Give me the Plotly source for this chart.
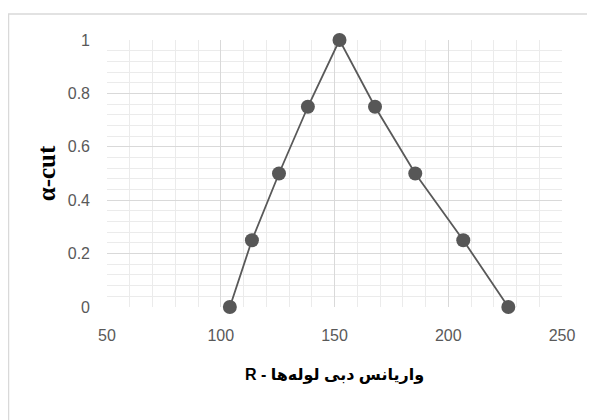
import plotly.graph_objects as go

x_vals = [104.0, 113.7, 125.6, 138.3, 152.2, 167.8, 185.5, 206.6, 226.4]
alpha_vals = [0, 0.25, 0.5, 0.75, 1.0, 0.75, 0.5, 0.25, 0]
x_ticks = [50, 100, 150, 200, 250]
y_ticks = [0, 0.2, 0.4, 0.6, 0.8, 1]
y_tick_text = ["0", "0.2", "0.4", "0.6", "0.8", "1"]
x_title = "R - واریانس دبی لوله‌ها"
y_title = "α-cut"

# page body has an 8px margin, so the figure starts at (8, 8)
W, H = 587, 412
L, T = 99, 32
pw, ph = 455, 267
R, B = W - L - pw, H - T - ph

fig = go.Figure()
fig.add_trace(go.Scatter(
    x=x_vals, y=alpha_vals, mode="lines+markers",
    line=dict(color="#595959", width=1.8),
    marker=dict(size=14, color="#575757", line=dict(width=0)),
    cliponaxis=False,
    showlegend=False, hoverinfo="skip",
))

tick_font = dict(family="Liberation Sans, Arial, sans-serif", size=16, color="#595959")
fig.update_layout(
    width=W, height=H,
    margin=dict(l=L, r=R, t=T, b=B, pad=0),
    paper_bgcolor="white", plot_bgcolor="white",
    xaxis=dict(
        range=[50, 250], tickvals=x_ticks, showgrid=True, gridcolor="#d9d9d9", gridwidth=1,
        minor=dict(dtick=10, showgrid=True, gridcolor="#ebebeb", gridwidth=1),
        zeroline=False, showline=False, ticks="", tickfont=tick_font,
        ticklabelstandoff=17,
        title=dict(text="<b>" + x_title + "</b>", standoff=25,
                   font=dict(family="Liberation Sans, DejaVu Sans, sans-serif", size=16, color="black")),
    ),
    yaxis=dict(
        range=[0, 1], tickvals=y_ticks, ticktext=y_tick_text, showgrid=True, gridcolor="#d9d9d9", gridwidth=1,
        minor=dict(dtick=0.04, showgrid=True, gridcolor="#ebebeb", gridwidth=1),
        zeroline=False, showline=False, ticks="", tickfont=tick_font,
        ticklabelstandoff=16,
        title=dict(text="<b>" + y_title + "</b>", standoff=5,
                   font=dict(family="Liberation Serif, Times New Roman, serif", size=25, color="black")),
    ),
)

# chart area border (light gray), extending beyond the visible window at right and bottom
fig.add_shape(type="rect", xref="paper", yref="paper",
              x0=(0.5 - L) / pw, x1=(W + 5 - L) / pw,
              y0=1 - (H + 5 - T) / ph, y1=1 - (6 - T) / ph,
              line=dict(color="#d9d9d9", width=1.5), layer="below")

fig.write_html("out.html")
